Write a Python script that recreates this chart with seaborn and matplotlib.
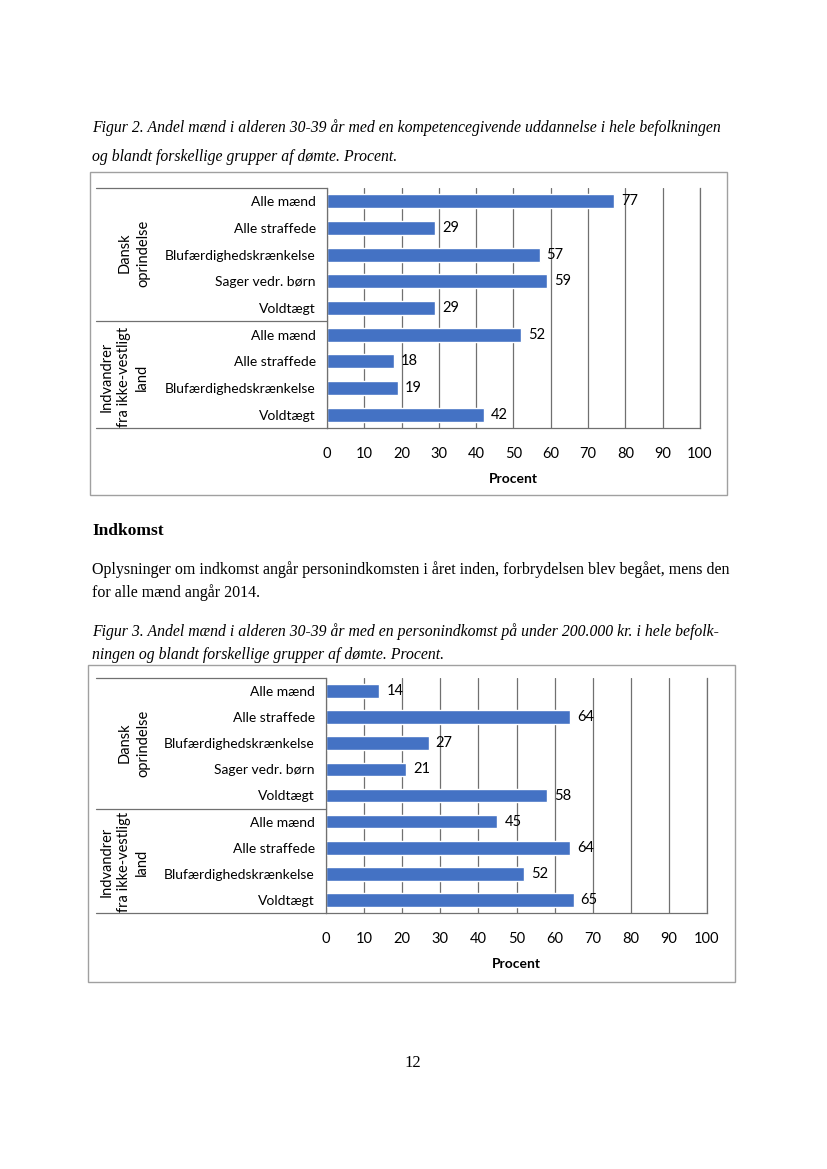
import matplotlib
matplotlib.use('Agg')
import matplotlib.pyplot as plt
import matplotlib.transforms as mtransforms
from matplotlib.patches import Rectangle
import pandas as pd
import seaborn as sns

# ---- data ----
groups = ["Dansk\noprindelse", "Indvandrer\nfra ikke-vestligt\nland"]
dansk_cats = ["Alle mænd", "Alle straffede", "Blufærdighedskrænkelse", "Sager vedr. børn", "Voldtægt"]
indv_cats = ["Alle mænd", "Alle straffede", "Blufærdighedskrænkelse", "Voldtægt"]

uddannelse_dansk = [77, 29, 57, 59, 29]
uddannelse_indv = [52, 18, 19, 42]

indkomst_dansk = [14, 64, 27, 21, 58]
indkomst_indv = [45, 64, 52, 65]

x_ticks = list(range(0, 101, 10))

BAR_COLOR = "#4472C4"
GRID_COLOR = "#707070"
W, H = 828, 1169

sns.set_style("white")
plt.rcParams['font.family'] = ['Lato', 'DejaVu Sans']
plt.rcParams['text.color'] = 'black'
plt.rcParams['xtick.color'] = 'black'
plt.rcParams['ytick.color'] = 'black'
plt.rcParams['axes.labelcolor'] = 'black'

fig = plt.figure(figsize=(W / 100, H / 100), dpi=100)
fig.patch.set_facecolor('white')


def fx(px):
    return px / W


def fy(py):
    return 1 - py / H


def make_df(d_vals, i_vals):
    rows = []
    for c, v in zip(dansk_cats, d_vals):
        rows.append(("D|" + c, c, v))
    for c, v in zip(indv_cats, i_vals):
        rows.append(("I|" + c, c, v))
    return pd.DataFrame(rows, columns=["key", "navn", "procent"])


def draw_chart(box, axbox, d_vals, i_vals, group_x, group_y):
    # ramme rundt om figuren
    x0, y0, x1, y1 = box
    fig.add_artist(Rectangle((fx(x0), fy(y1)), fx(x1) - fx(x0), fy(y0) - fy(y1),
                             transform=fig.transFigure, fill=False,
                             edgecolor="#a0a0a0", lw=1.0))

    left, right, top, bottom = axbox
    ax = fig.add_axes([fx(left), fy(bottom), fx(right) - fx(left), fy(top) - fy(bottom)])
    df = make_df(d_vals, i_vals)
    sns.barplot(data=df, y="key", x="procent", orient="h", color=BAR_COLOR,
                saturation=1, width=0.52, ax=ax)
    ax.bar_label(ax.containers[0], padding=5, fontsize=10.5)

    ax.set_xlim(0, 100)
    ax.set_ylim(len(df) - 0.5, -0.5)
    ax.set_xticks(x_ticks)
    ax.set_yticks(range(len(df)))
    ax.set_yticklabels(df["navn"], fontsize=10)
    ax.tick_params(axis='x', length=0, pad=14, labelsize=10.5)
    ax.tick_params(axis='y', length=0, pad=8)
    ax.set_ylabel("")
    ax.set_xlabel("Procent", fontsize=10, fontweight='bold', labelpad=8)
    ax.xaxis.grid(True, color=GRID_COLOR, lw=0.9)
    ax.set_axisbelow(True)
    for s in ['left', 'bottom', 'right']:
        ax.spines[s].set_color(GRID_COLOR)
        ax.spines[s].set_linewidth(0.9)
    ax.spines['top'].set_visible(False)

    # gruppelinjer i etiketområdet
    trans = mtransforms.blended_transform_factory(fig.transFigure, ax.transData)
    for yy in [-0.5, len(dansk_cats) - 0.5, len(df) - 0.5]:
        ax.plot([fx(96), fx(left)], [yy, yy], transform=trans, color=GRID_COLOR,
                lw=0.9, clip_on=False)

    for g, gxp, gyp in zip(groups, group_x, group_y):
        fig.text(fx(gxp), fy(gyp), g, rotation=90, ha='center', va='center',
                 multialignment='center', fontsize=10.5, linespacing=1.35)
    return ax


# ---- tekst på siden ----
serif = ['Liberation Serif', 'DejaVu Serif']
fig.text(fx(92), fy(128), "Figur 2. Andel mænd i alderen 30-39 år med en kompetencegivende uddannelse i hele befolkningen",
         family=serif, style='italic', fontsize=11.35, va='center')
fig.text(fx(92), fy(157), "og blandt forskellige grupper af dømte. Procent.",
         family=serif, style='italic', fontsize=11.35, va='center')

draw_chart((90, 172, 727, 495), (327, 700, 188, 428),
           uddannelse_dansk, uddannelse_indv, [134, 124], [253, 377])

fig.text(fx(92), fy(531), "Indkomst", family=serif, fontweight='bold', fontsize=12.5, va='center')
fig.text(fx(92), fy(570), "Oplysninger om indkomst angår personindkomsten i året inden, forbrydelsen blev begået, mens den",
         family=serif, fontsize=11.5, va='center')
fig.text(fx(92), fy(593), "for alle mænd angår 2014.", family=serif, fontsize=11.5, va='center')
fig.text(fx(92), fy(632), "Figur 3. Andel mænd i alderen 30-39 år med en personindkomst på under 200.000 kr. i hele befolk-",
         family=serif, style='italic', fontsize=11.35, va='center')
fig.text(fx(92), fy(655), "ningen og blandt forskellige grupper af dømte. Procent.",
         family=serif, style='italic', fontsize=11.35, va='center')

draw_chart((88, 665, 735, 982), (326, 707, 678, 913),
           indkomst_dansk, indkomst_indv, [134, 124], [743, 862])

fig.text(fx(413), fy(1063), "12", family=serif, fontsize=12, ha='center', va='center')

fig.savefig("out.png", dpi=100, facecolor='white')
